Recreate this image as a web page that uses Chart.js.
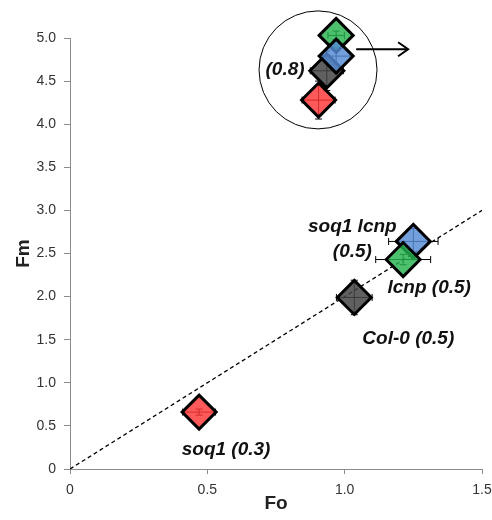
<!DOCTYPE html>
<html>
<head>
<meta charset="utf-8">
<script src="https://cdn.jsdelivr.net/npm/chart.js@4.4.1/dist/chart.umd.min.js"></script>
<style>
  html, body { margin: 0; padding: 0; background: #fff; }
  #wrap { width: 492px; height: 520px; }
</style>
</head>
<body>
<div id="wrap"><canvas id="chart" width="492" height="520"></canvas></div>
<script>
'use strict';

/* ── Data ───────────────────────────────────────────────────────── */
const genotypes = ['soq1', 'Col-0', 'lcnp', 'soq1 lcnp'];

// main cluster (Fv/Fm labelled next to each point)
const foMain = [0.47, 1.035, 1.213, 1.25];
const fmMain = [0.66, 1.99, 2.43, 2.64];
const foMainErr = [0.06, 0.065, 0.10, 0.09];
const fmMainErr = [0.035, 0.2, 0.06, 0.15];
const ratioMain = ['0.3', '0.5', '0.5', '0.5'];

// circled cluster (all at Fv/Fm 0.8)
const foInset = [0.905, 0.935, 0.969, 0.969];
const fmInset = [4.28, 4.62, 5.03, 4.79];
const foInsetErr = [0.06, 0.06, 0.03, 0.05];
const fmInsetErr = [0.22, 0.23, 0.05, 0.1];
const ratioInset = '0.8';

// reference line Fm = 2·Fo (Fv/Fm = 0.5)
const refFo = [0, 1.5];
const refFm = [0, 3.0];

// circle + arrow marking the high-Fm cluster
const circleCenter = { x: 0.903, y: 4.63 };
const arrowFo = [1.042, 1.231];
const arrowFm = [4.87, 4.87];

const xTicks = [0, 0.5, 1.0, 1.5];
const yTicks = [0, 0.5, 1.0, 1.5, 2.0, 2.5, 3.0, 3.5, 4.0, 4.5, 5.0];

/* ── Styles ─────────────────────────────────────────────────────── */
const FILL = {
    'soq1': 'rgba(255,52,52,0.82)',
    'Col-0': 'rgba(68,68,68,0.85)',
    'lcnp': 'rgba(36,178,76,0.82)',
    'soq1 lcnp': 'rgba(84,138,212,0.82)'
};
const FONT = 'Liberation Sans, Arial, sans-serif';

// label placement relative to the marker centre (px)
const LABEL_POS = {
    'soq1': [{ dx: 27, dy: 38 }],
    'Col-0': [{ dx: 54, dy: 41 }],
    'lcnp': [{ dx: 26, dy: 28 }],
    'soq1 lcnp': [{ dx: -61, dy: -15 }, { dx: -61, dy: 10 }]
};

/* ── Build datasets ─────────────────────────────────────────────── */
const mainPts = genotypes.map((g, i) => ({
    x: foMain[i], y: fmMain[i], xErr: foMainErr[i], yErr: fmMainErr[i], g
})).reverse();   // lcnp drawn over soq1 lcnp

const insetPts = genotypes.map((g, i) => ({
    x: foInset[i], y: fmInset[i], xErr: foInsetErr[i], yErr: fmInsetErr[i], g
}));

const markerStyle = pts => ({
    type: 'scatter',
    data: pts,
    pointStyle: 'rectRot',
    pointRadius: 17,
    pointHoverRadius: 17,
    pointBorderWidth: 3,
    pointBorderColor: '#000',
    pointBackgroundColor: pts.map(p => FILL[p.g]),
    clip: false,
    order: 1
});

/* ── Plugins ────────────────────────────────────────────────────── */
// error bars go under the markers; the translucent fill lets them show through
const errorBars = {
    id: 'errorBars',
    beforeDatasetsDraw(chart) {
        const { ctx, scales: { x, y } } = chart;
        ctx.save();
        ctx.strokeStyle = '#000';
        ctx.lineWidth = 1;
        chart.data.datasets.forEach(ds => {
            if (!ds.isMarker) return;
            ds.data.forEach(p => {
                const cx = x.getPixelForValue(p.x), cy = y.getPixelForValue(p.y);
                const x0 = x.getPixelForValue(p.x - p.xErr), x1 = x.getPixelForValue(p.x + p.xErr);
                const y0 = y.getPixelForValue(p.y - p.yErr), y1 = y.getPixelForValue(p.y + p.yErr);
                ctx.beginPath();
                ctx.moveTo(x0, cy); ctx.lineTo(x1, cy);
                ctx.moveTo(x0, cy - 3.5); ctx.lineTo(x0, cy + 3.5);
                ctx.moveTo(x1, cy - 3.5); ctx.lineTo(x1, cy + 3.5);
                ctx.moveTo(cx, y0); ctx.lineTo(cx, y1);
                ctx.moveTo(cx - 3.5, y0); ctx.lineTo(cx + 3.5, y0);
                ctx.moveTo(cx - 3.5, y1); ctx.lineTo(cx + 3.5, y1);
                ctx.stroke();
            });
        });
        ctx.restore();
    }
};

const annotations = {
    id: 'annotations',
    afterDraw(chart) {
        const { ctx, scales: { x, y } } = chart;
        ctx.save();
        // arrow head
        const tx = x.getPixelForValue(arrowFo[1]), ty = y.getPixelForValue(arrowFm[1]);
        ctx.strokeStyle = '#000';
        ctx.lineWidth = 2;
        ctx.beginPath();
        ctx.moveTo(tx - 10, ty - 7); ctx.lineTo(tx, ty); ctx.lineTo(tx - 10, ty + 7);
        ctx.stroke();

        // point labels
        ctx.fillStyle = '#111';
        ctx.font = 'italic bold 19px ' + FONT;
        ctx.textAlign = 'center';
        ctx.textBaseline = 'middle';
        genotypes.forEach((g, i) => {
            const px = x.getPixelForValue(foMain[i]), py = y.getPixelForValue(fmMain[i]);
            const lines = g === 'soq1 lcnp' ? [g, '(' + ratioMain[i] + ')'] : [g + ' (' + ratioMain[i] + ')'];
            lines.forEach((t, k) => {
                const pos = LABEL_POS[g][k];
                ctx.fillText(t, px + pos.dx, py + pos.dy);
            });
        });
        ctx.fillText('(' + ratioInset + ')', x.getPixelForValue(circleCenter.x) - 33, y.getPixelForValue(circleCenter.y));
        ctx.restore();
    }
};

/* ── Chart ──────────────────────────────────────────────────────── */
const tickFmt = v => v === 0 ? '0' : v.toFixed(1);

new Chart(document.getElementById('chart'), {
    type: 'scatter',
    data: {
        datasets: [
            Object.assign(markerStyle(mainPts), { label: 'main', isMarker: true }),
            Object.assign(markerStyle(insetPts), { label: 'inset', isMarker: true }),
            {
                type: 'line',
                label: 'Fv/Fm 0.5',
                data: refFo.map((v, i) => ({ x: v, y: refFm[i] })),
                borderColor: '#000',
                borderWidth: 1.3,
                borderDash: [4, 3],
                pointRadius: 0,
                order: 3
            },
            {
                type: 'scatter',
                label: 'circle',
                data: [circleCenter],
                pointRadius: 59,
                pointHoverRadius: 59,
                pointBorderWidth: 1,
                pointBorderColor: '#000',
                pointBackgroundColor: 'rgba(0,0,0,0)',
                clip: false,
                order: 4
            },
            {
                type: 'line',
                label: 'arrow',
                data: arrowFo.map((v, i) => ({ x: v, y: arrowFm[i] })),
                borderColor: '#000',
                borderWidth: 2,
                pointRadius: 0,
                clip: false,
                order: 2
            }
        ]
    },
    options: {
        responsive: false,
        animation: false,
        events: [],
        layout: { autoPadding: false, padding: { top: 38, right: 10, left: 0, bottom: 5 } },
        plugins: { legend: { display: false }, tooltip: { enabled: false } },
        scales: {
            x: {
                type: 'linear',
                min: 0, max: 1.5,
                afterBuildTicks: s => { s.ticks = xTicks.map(v => ({ value: v })); },
                afterFit: s => { s.height = 46; s.paddingLeft = 0; s.paddingRight = 0; },
                border: { color: '#8c8c8c', width: 1 },
                grid: { drawOnChartArea: false, color: '#8c8c8c', tickLength: 5 },
                ticks: { color: '#333', font: { family: FONT, size: 14 }, padding: 8, callback: tickFmt, maxRotation: 0 },
                title: { display: true, text: 'Fo', color: '#222', font: { family: FONT, size: 19, weight: 'bold' }, padding: 0 }
            },
            y: {
                type: 'linear',
                min: 0, max: 5,
                afterBuildTicks: s => { s.ticks = yTicks.map(v => ({ value: v })); },
                afterFit: s => { s.width = 70; s.paddingTop = 0; s.paddingBottom = 0; },
                border: { color: '#8c8c8c', width: 1 },
                grid: { drawOnChartArea: false, color: '#8c8c8c', tickLength: 6 },
                ticks: { color: '#333', font: { family: FONT, size: 14 }, padding: 8, callback: tickFmt },
                title: { display: true, text: 'Fm', color: '#222', font: { family: FONT, size: 19, weight: 'bold' }, padding: { top: 12, bottom: 0 } }
            }
        }
    },
    plugins: [errorBars, annotations]
});
</script>
</body>
</html>
